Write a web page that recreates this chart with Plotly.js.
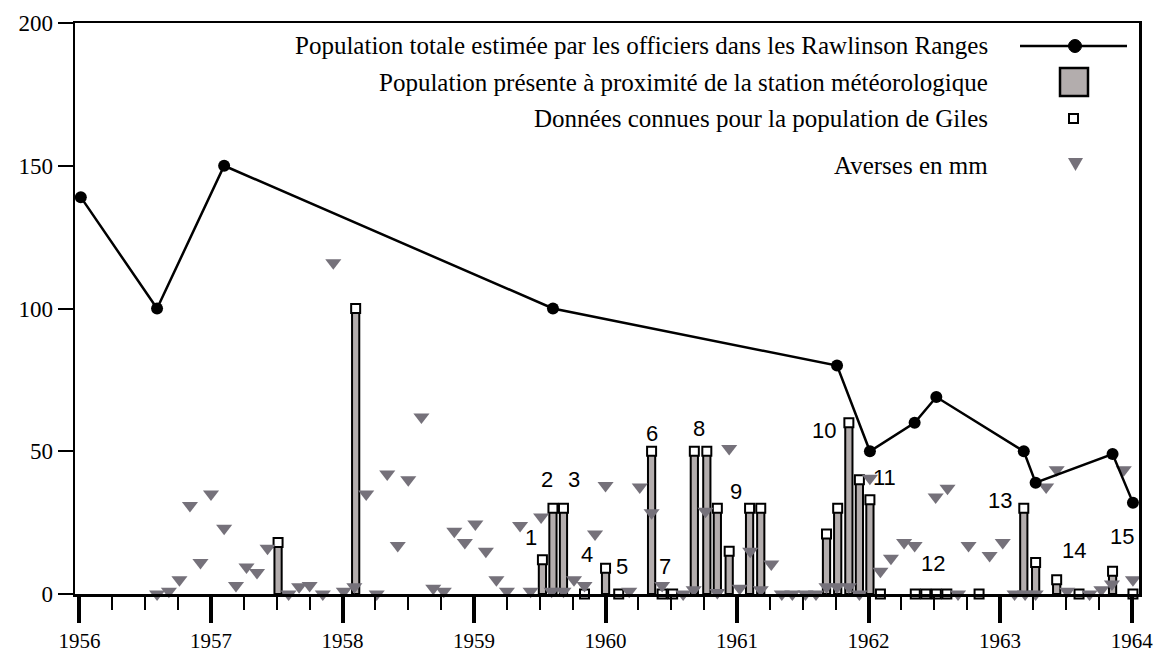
<!DOCTYPE html>
<html><head><meta charset="utf-8">
<script src="https://cdn.plot.ly/plotly-3.0.1.min.js"></script>
<style>html,body{margin:0;padding:0;background:#fff}</style>
</head><body><div id="chart" style="width:1161px;height:652px"></div>
<script>
// ---- data ----
const lineYears  = [1956.01, 1956.59, 1957.10, 1959.60, 1961.76, 1962.01, 1962.35, 1962.515, 1963.18, 1963.27, 1963.855, 1964.01];
const lineValues = [139, 100, 150, 100, 80, 50, 60, 69, 50, 39, 49, 32];

const barYears  = [1957.51, 1958.10, 1959.52, 1959.60, 1959.68, 1960.00, 1960.35, 1960.675, 1960.77, 1960.85, 1960.94, 1961.095, 1961.18, 1961.68, 1961.765, 1961.85, 1961.93, 1962.01, 1963.18, 1963.27, 1963.43, 1963.855];
const barValues = [18, 100, 12, 30, 30, 9, 50, 50, 50, 30, 15, 30, 30, 21, 30, 60, 40, 33, 30, 11, 5, 8];

const gilesYears  = [1957.51, 1958.10, 1959.52, 1959.60, 1959.68, 1959.84, 1960.00, 1960.10, 1960.35, 1960.43, 1960.51, 1960.675, 1960.77, 1960.85, 1960.94, 1961.095, 1961.18, 1961.68, 1961.765, 1961.85, 1961.93, 1962.01, 1962.09, 1962.355, 1962.435, 1962.515, 1962.595, 1962.84, 1963.18, 1963.27, 1963.43, 1963.60, 1963.855, 1964.01];
const gilesValues = [18, 100, 12, 30, 30, 0, 9, 0, 50, 0, 0, 50, 50, 30, 15, 30, 30, 21, 30, 60, 40, 33, 0, 0, 0, 0, 0, 0, 30, 11, 5, 0, 8, 0];

const rainYears = [1956.59,1956.68,1956.76,1956.84,1956.92,
  1957.00,1957.10,1957.19,1957.27,1957.35,1957.43,1957.59,1957.67,1957.75,1957.85,1957.93,
  1958.01,1958.09,1958.18,1958.26,1958.34,1958.42,1958.50,1958.60,1958.69,1958.77,1958.85,1958.93,
  1959.01,1959.09,1959.17,1959.25,1959.35,1959.43,1959.51,1959.59,1959.68,1959.76,1959.84,1959.92,
  1960.00,1960.18,1960.26,1960.35,1960.43,1960.59,1960.67,1960.76,1960.85,1960.94,
  1961.02,1961.10,1961.18,1961.26,1961.34,1961.42,1961.52,1961.60,1961.68,1961.76,1961.85,1961.93,
  1962.01,1962.09,1962.17,1962.27,1962.35,1962.51,1962.60,1962.68,1962.76,1962.92,
  1963.02,1963.11,1963.19,1963.27,1963.35,1963.43,1963.51,1963.68,1963.77,1963.85,1963.94,
  1964.01];
const rainValues = [0,1,5,31,11,
  35,23,3,9.5,7.5,16,0,2.5,3,0,116,
  1,2.5,35,0,42,17,40,62,2,1,22,18,
  24.5,15,5,1,24,1,27,1,1,5,3,21,
  38,1,37.5,28.5,3,0,1.5,29,0.5,51,
  2,15,1.5,10.5,0,0,0,0,2.5,2.5,2.5,0,
  40.5,8,12.5,18,17,34,37,0,17,13.5,
  18,0,0,0,37.5,43.5,1,0,1.5,3.5,43.5,
  5];

const labelTexts  = ['1','2','3','4','5','6','7','8','9','10','11','12','13','14','15'];
const labelYears  = [1959.43, 1959.555, 1959.76, 1959.86, 1960.125, 1960.35, 1960.45, 1960.71, 1960.99, 1961.66, 1962.12, 1962.49, 1962.996, 1963.56, 1963.93];
const labelValues = [19.9, 40.2, 40.2, 14, 9.6, 56.3, 9.8, 58, 35.8, 57.4, 40.7, 10.8, 32.9, 15.4, 20];

const yearTicks = [1956, 1957, 1958, 1959, 1960, 1961, 1962, 1963, 1964];
const yearTickLabels = ['1956','1957','1958','1959','1960','1961','1962','1963','1964'];
const valueTicks = [0, 50, 100, 150, 200];

const legendNames = [
  'Population totale estimée par les officiers dans les Rawlinson Ranges',
  'Population présente à proximité de la station météorologique',
  'Données connues pour la population de Giles',
  'Averses en mm'
];

// ---- layout helpers ----
const W = 1161, H = 652;
const M = {l: 75, r: 22, t: 23, b: 58};
const pw = W - M.l - M.r, ph = H - M.t - M.b;
const px = v => (v - M.l) / pw;          // pixel x -> paper
const py = v => (H - M.b - v) / ph;      // pixel y -> paper

const serif = 'Liberation Serif, Times New Roman, serif';
const sans = 'Liberation Sans, Arial, sans-serif';
const barGray = '#b3adad';
const rainGray = '#75717a';

const traces = [
  {type: 'bar', x: barYears, y: barValues, width: 0.055,
   marker: {color: barGray, line: {color: '#000', width: 2}},
   showlegend: false, hoverinfo: 'x+y'},
  {type: 'scatter', mode: 'markers', x: gilesYears, y: gilesValues, cliponaxis: false,
   marker: {symbol: 'square', size: 9, color: '#fff', line: {color: '#000', width: 2}},
   showlegend: false},
  {type: 'scatter', mode: 'markers', x: rainYears, y: rainValues, cliponaxis: false,
   marker: {symbol: 'triangle-down', size: 14, color: rainGray, line: {width: 0}},
   showlegend: false},
  {type: 'scatter', mode: 'lines+markers', x: lineYears, y: lineValues, cliponaxis: false,
   line: {color: '#000', width: 2.5},
   marker: {symbol: 'circle', size: 12, color: '#000'},
   showlegend: false}
];

const annotations = labelTexts.map((t, i) => ({
  x: labelYears[i], y: labelValues[i], xref: 'x', yref: 'y', text: t, showarrow: false,
  font: {family: sans, size: 22, color: '#000'}, xanchor: 'center', yanchor: 'middle'
}));

const legendRowsY = [46, 82, 118, 165];
legendNames.forEach((n, i) => annotations.push({
  x: px(990), y: py(legendRowsY[i]), xref: 'paper', yref: 'paper', text: n, showarrow: false,
  xanchor: 'right', yanchor: 'middle', font: {family: serif, size: 25, color: '#000'}
}));

const shapes = [
  {type: 'line', xref: 'paper', yref: 'paper', x0: px(1020), x1: px(1127), y0: py(46), y1: py(46),
   line: {color: '#000', width: 2.5}},
  {type: 'circle', xref: 'paper', yref: 'paper', x0: px(1068.5), x1: px(1081.5), y0: py(52.5), y1: py(39.5),
   fillcolor: '#000', line: {color: '#000', width: 1}},
  {type: 'rect', xref: 'paper', yref: 'paper', x0: px(1060), x1: px(1088), y0: py(96), y1: py(68),
   fillcolor: barGray, line: {color: '#000', width: 2.5}},
  {type: 'rect', xref: 'paper', yref: 'paper', x0: px(1069), x1: px(1078), y0: py(123), y1: py(114),
   fillcolor: '#fff', line: {color: '#000', width: 2}},
  {type: 'path', xref: 'paper', yref: 'paper',
   path: `M ${px(1068)} ${py(158)} L ${px(1083)} ${py(158)} L ${px(1075.5)} ${py(171)} Z`,
   fillcolor: rainGray, line: {width: 0}}
];

const layout = {
  width: W, height: H,
  margin: {l: M.l, r: M.r, t: M.t, b: M.b, pad: 0},
  paper_bgcolor: '#fff', plot_bgcolor: '#fff',
  showlegend: false,
  bargap: 0,
  xaxis: {
    range: [1955.966, 1964.056], tickmode: 'array', tickvals: yearTicks, ticktext: yearTickLabels,
    ticks: 'outside', ticklen: 26, tickwidth: 4, tickcolor: '#000',
    showline: true, linecolor: '#000', linewidth: 2.5, mirror: true,
    showgrid: false, zeroline: false,
    tickfont: {family: serif, size: 21, color: '#000'},
    minor: {dtick: 0.25, tick0: 1956, ticks: 'outside', ticklen: 13, tickwidth: 2, tickcolor: '#000', showgrid: false}
  },
  yaxis: {
    range: [0, 200], tickmode: 'array', tickvals: valueTicks,
    ticks: 'outside', ticklen: 15, tickwidth: 2, tickcolor: '#000',
    showline: true, linecolor: '#000', linewidth: 2.5, mirror: true,
    showgrid: false, zeroline: false,
    tickfont: {family: serif, size: 23, color: '#000'}
  },
  annotations: annotations,
  shapes: shapes
};

Plotly.newPlot('chart', traces, layout, {displayModeBar: false, staticPlot: true});
</script>
</body></html>
